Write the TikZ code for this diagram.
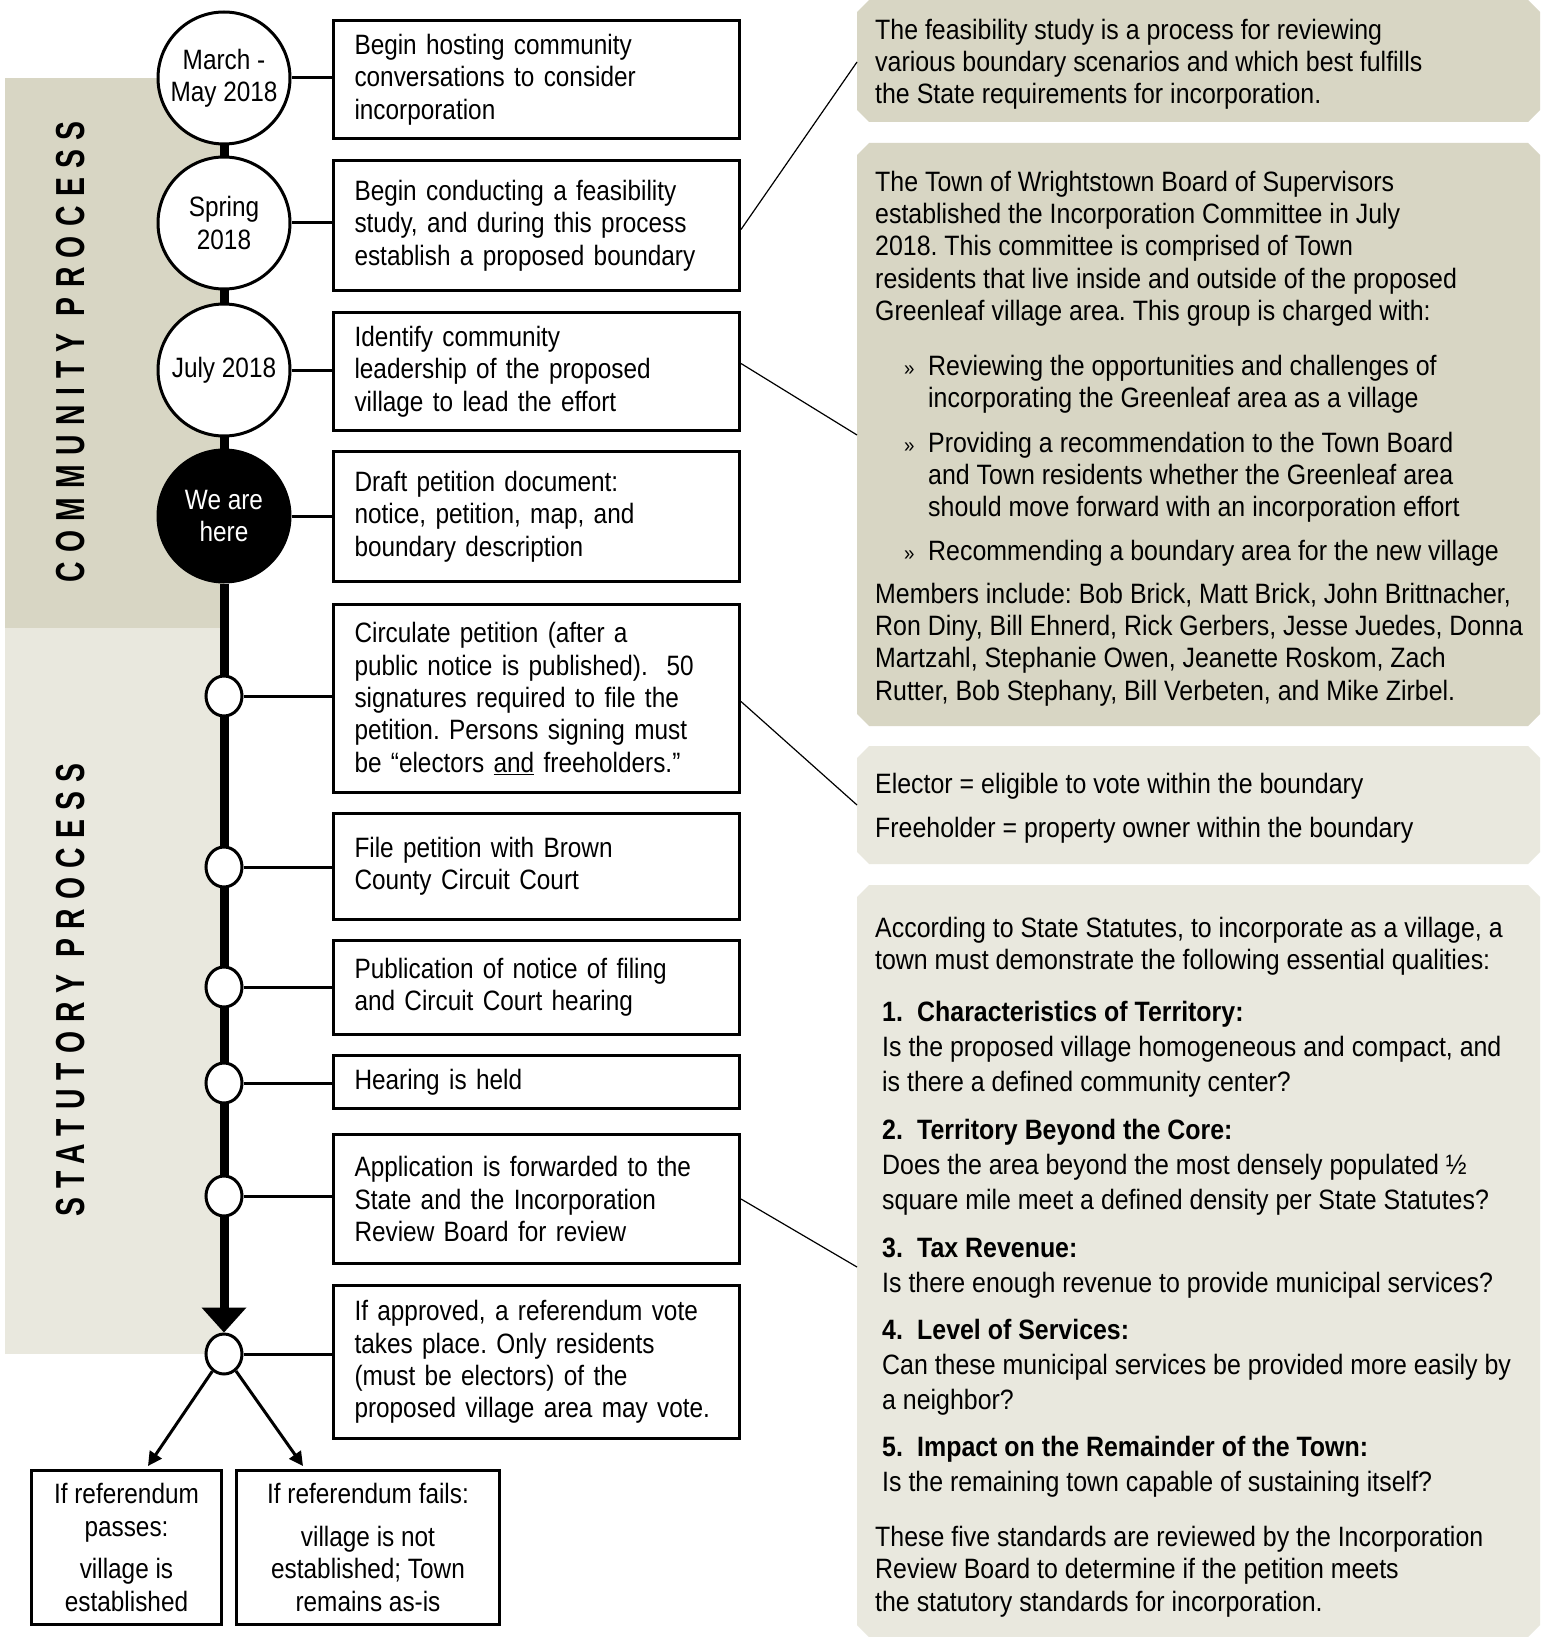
\documentclass[tikz,border=0pt]{standalone}
\usepackage{fontspec}
\setmainfont{Liberation Sans}[FakeStretch=0.89]
\newfontfamily\boxfont{Liberation Sans}[FakeStretch=0.87]
\newfontfamily\vfont{Liberation Sans}[FakeStretch=0.7,LetterSpace=23]
\usetikzlibrary{arrows.meta,backgrounds,shapes.geometric}
\definecolor{darkbeige}{HTML}{D8D6C4}
\definecolor{lightbeige}{HTML}{E9E8DE}
\newcommand\chpanel[3]{%
  \fill[#1] (857,{#2+12}) -- (869,#2) -- (1528,#2) -- (1540,{#2+12}) -- (1540,{#3-12}) -- (1528,#3) -- (869,#3) -- (857,{#3-12}) -- cycle;}
\frenchspacing
\begin{document}
\frenchspacing
\begin{tikzpicture}[x=1pt,y=-1pt,
  body/.style={font=\frenchspacing\fontsize{28}{32.4}\selectfont},
  bbody/.style={font=\frenchspacing\boxfont\fontsize{28}{32.4}\selectfont},
  stepbox/.style={draw, line width=3pt, bbody, align=left, text width=364pt,
    inner xsep=21pt, inner ysep=0pt, minimum width=406pt, anchor=north west},
  bigdot/.style={draw, circle, line width=3pt, fill=white, minimum size=132pt,
    inner sep=0pt, bbody, align=center},
  smalldot/.style={draw, ellipse, line width=3pt, fill=white, minimum width=36pt,
    minimum height=40pt, inner sep=0pt},
  ptext/.style={anchor=north west, inner sep=0pt, align=left, body},
  endbox/.style={draw, line width=3pt, bbody, align=center, anchor=north west, inner sep=0pt},
  vlabel/.style={rotate=90, inner sep=0pt, font=\vfont\bfseries\fontsize{40.5}{40}\selectfont},
  thin/.style={line width=1.2pt},
  link/.style={line width=3pt}
]
\useasboundingbox (0,0) rectangle (1543,1637);

% right panels
\chpanel{darkbeige}{0}{122}
\chpanel{darkbeige}{143}{726}
\chpanel{lightbeige}{746}{864}
\chpanel{lightbeige}{885}{1637}

% side labels
\node[vlabel] (lc) at (71,352) {COMMUNITY PROCESS};
\node[vlabel] (ls) at (71,990) {STATUTORY PROCESS};

% timeline circles
\node[bigdot] (c1) at (224,78) {March -\\May 2018};
\node[bigdot] (c2) at (224,223) {Spring\\2018};
\node[bigdot] (c3) at (224,370) {July 2018};
\node[bigdot, fill=black, text=white] (c4) at (224,516) {We are\\here};
\node[smalldot] (s1) at (224,696) {};
\node[smalldot] (s2) at (224,867) {};
\node[smalldot] (s3) at (224,987) {};
\node[smalldot] (s4) at (224,1083) {};
\node[smalldot] (s5) at (224,1196) {};
\node[smalldot] (s6) at (224,1354) {};

% step boxes
\node[stepbox, minimum height=118pt] (b1) at (332,19) {Begin hosting community\\conversations to consider\\incorporation};
\node[stepbox, minimum height=130pt] (b2) at (332,159) {Begin conducting a feasibility\\study, and during this process\\establish a proposed boundary};
\node[stepbox, minimum height=118pt] (b3) at (332,311) {Identify community\\leadership of the proposed\\village to lead the effort};
\node[stepbox, minimum height=130pt] (b4) at (332,450) {Draft petition document:\\notice, petition, map, and\\boundary description};
\node[stepbox, minimum height=188pt] (b5) at (332,603) {Circulate petition (after a\\public notice is published).\ \ 50\\signatures required to file the\\petition. Persons signing must\\be “electors \underline{and} freeholders.”};
\node[stepbox, minimum height=106pt] (b6) at (332,812) {File petition with Brown\\County Circuit Court};
\node[stepbox, minimum height=94pt] (b7) at (332,939) {Publication of notice of filing\\and Circuit Court hearing};
\node[stepbox, minimum height=53pt] (b8) at (332,1054) {Hearing is held};
\node[stepbox, minimum height=129pt] (b9) at (332,1133) {Application is forwarded to the\\State and the Incorporation\\Review Board for review};
\node[stepbox, minimum height=153pt] (b10) at (332,1284) {If approved, a referendum vote\\takes place. Only residents\\(must be electors) of the\\proposed village area may vote.};

% outcome boxes
\node[endbox, minimum width=190pt, minimum height=154pt] (oa) at (30,1469) {If referendum\\passes:\\[10pt]village is\\established};
\node[endbox, minimum width=263pt, minimum height=154pt] (ob) at (235,1469) {If referendum fails:\\[10pt]village is not\\established; Town\\remains as-is};

% arrowhead on the timeline
\fill (s6.north) -- ++(-22.5,-25) -- ++(45,0) -- cycle;

% branch arrows
\coordinate (ta) at (148,1466);
\coordinate (tb) at (303,1466);
\draw[link, -{Triangle[length=14pt,width=14pt]}] (s6) -- (ta);
\draw[link, -{Triangle[length=14pt,width=14pt]}] (s6) -- (tb);

% panel texts
\node[ptext] (t1) at (875,16.3) {\strut The feasibility study is a process for reviewing\\various boundary scenarios and which best fulfills\\the State requirements for incorporation.};
\node[ptext] (t2) at (875,168.3) {\strut The Town of Wrightstown Board of Supervisors\\established the Incorporation Committee in July\\2018. This committee is comprised of Town\\residents that live inside and outside of the proposed\\Greenleaf village area. This group is charged with:};
\node[ptext] (m1) at (904,352.3) {\strut\fontsize{21}{21}\selectfont »};
\node[ptext] (t3) at (928,352.3) {\strut Reviewing the opportunities and challenges of\\incorporating the Greenleaf area as a village};
\node[ptext] (m2) at (904,429.3) {\strut\fontsize{21}{21}\selectfont »};
\node[ptext] (t4) at (928,429.3) {\strut Providing a recommendation to the Town Board\\and Town residents whether the Greenleaf area\\should move forward with an incorporation effort};
\node[ptext] (m3) at (904,537.3) {\strut\fontsize{21}{21}\selectfont »};
\node[ptext] (t5) at (928,537.3) {\strut Recommending a boundary area for the new village};
\node[ptext] (t6) at (875,580.3) {\strut Members include: Bob Brick, Matt Brick, John Brittnacher,\\Ron Diny, Bill Ehnerd, Rick Gerbers, Jesse Juedes, Donna\\Martzahl, Stephanie Owen, Jeanette Roskom, Zach\\Rutter, Bob Stephany, Bill Verbeten, and Mike Zirbel.};
\node[ptext] (t7) at (875,770.3) {\strut Elector = eligible to vote within the boundary\\[11.6pt]Freeholder = property owner within the boundary};
\node[ptext] (t8) at (875,914.3) {\strut According to State Statutes, to incorporate as a village, a\\town must demonstrate the following essential qualities:};
\node[ptext, font=\fontsize{28}{35}\selectfont] (q1) at (882,996.3) {\strut\makebox[35pt][l]{\textbf{1.}}\textbf{Characteristics of Territory:}\\Is the proposed village homogeneous and compact, and\\is there a defined community center?};
\node[ptext, font=\fontsize{28}{35}\selectfont] (q2) at (882,1114.3) {\strut\makebox[35pt][l]{\textbf{2.}}\textbf{Territory Beyond the Core:}\\Does the area beyond the most densely populated ½\\square mile meet a defined density per State Statutes?};
\node[ptext, font=\fontsize{28}{35}\selectfont] (q3) at (882,1232.3) {\strut\makebox[35pt][l]{\textbf{3.}}\textbf{Tax Revenue:}\\Is there enough revenue to provide municipal services?};
\node[ptext, font=\fontsize{28}{35}\selectfont] (q4) at (882,1314.3) {\strut\makebox[35pt][l]{\textbf{4.}}\textbf{Level of Services:}\\Can these municipal services be provided more easily by\\a neighbor?};
\node[ptext, font=\fontsize{28}{35}\selectfont] (q5) at (882,1431.3) {\strut\makebox[35pt][l]{\textbf{5.}}\textbf{Impact on the Remainder of the Town:}\\Is the remaining town capable of sustaining itself?};
\node[ptext] (t9) at (875,1523.3) {\strut These five standards are reviewed by the Incorporation\\Review Board to determine if the petition meets\\the statutory standards for incorporation.};

% panel link ends
\coordinate (e1) at (857,62);
\coordinate (e2) at (857,435);
\coordinate (e3) at (857,805);
\coordinate (e4) at (857,1267);

\begin{pgfonlayer}{background}
  \fill[white] (0,0) rectangle (1543,1637);
  \fill[darkbeige] (5,78) rectangle (224,628);
  \fill[lightbeige] (5,628) rectangle (224,1354);
  \draw[line width=9pt] (c1) -- (c4);
  \draw[line width=9pt] (c4) -- ([yshift=20pt]s6.north);
  \foreach \c/\b in {c1/b1,c2/b2,c3/b3,c4/b4,s1/b5,s2/b6,s3/b7,s4/b8,s5/b9,s6/b10}
    \draw[link] (\c) -- (\c -| \b.west);
\end{pgfonlayer}

% thin links to panels
\draw[thin] ([yshift=-4pt]b2.east) -- (e1);
\draw[thin] ([yshift=8pt]b3.east) -- (e2);
\draw[thin] ([yshift=-3pt]b5.east) -- (e3);
\draw[thin] (b9.east) -- (e4);
\end{tikzpicture}
\end{document}
